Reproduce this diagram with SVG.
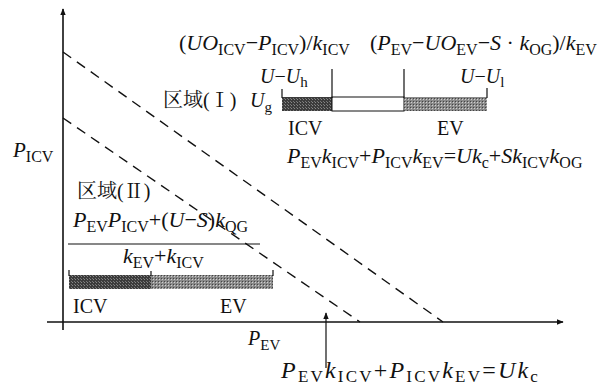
<svg xmlns="http://www.w3.org/2000/svg" width="612" height="387" viewBox="0 0 612 387">
<style>
.t{font-family:"Liberation Serif","Noto Serif CJK SC","Noto Sans CJK SC",serif;font-size:22px;fill:#111}
.l{font-size:20px}
.b{font-size:24px;letter-spacing:2.2px}
.i{font-style:italic}
.s{font-size:16px;font-style:normal}
.b .s{font-size:17px}
.l .s{font-size:15px}
.ax{stroke:#111;stroke-width:1.6;fill:none}
.dash{stroke:#111;stroke-width:1.4;fill:none;stroke-dasharray:10 7}
.thin{stroke:#111;stroke-width:1.2;fill:none}
</style>
<defs>
<marker id="ah" viewBox="0 0 10 10" refX="9" refY="5" markerWidth="7" markerHeight="7" markerUnits="userSpaceOnUse" orient="auto">
<path d="M0,1 L10,5 L0,9 Z" fill="#111"/>
</marker>
<pattern id="dk" width="3" height="3" patternUnits="userSpaceOnUse">
<rect width="3" height="3" fill="#3c3c3c"/><rect width="1" height="1" fill="#888"/><rect x="2" y="2" width="1" height="1" fill="#777"/>
</pattern>
<pattern id="lt" width="3" height="3" patternUnits="userSpaceOnUse">
<rect width="3" height="3" fill="#8a8a8a"/><rect width="1" height="1" fill="#d0d0d0"/><rect x="2" y="2" width="1" height="1" fill="#444"/>
</pattern>
</defs>
<g id="axes">
<line class="ax" x1="63" y1="330" x2="63" y2="9" marker-end="url(#ah)"/>
<line class="ax" x1="47" y1="322" x2="563" y2="322" marker-end="url(#ah)"/>
</g>
<g id="connectors">
<line class="dash" x1="63" y1="52" x2="443" y2="322"/>
<line class="dash" x1="63" y1="118" x2="360" y2="322"/>
<line class="thin" x1="326" y1="368" x2="326" y2="313" marker-end="url(#ah)"/>
</g>
<g id="bar-top">
<rect x="282" y="97" width="50" height="14" fill="url(#dk)"/>
<rect x="332" y="97" width="72" height="14" fill="#fff" stroke="#111" stroke-width="1"/>
<rect x="404" y="97" width="83" height="14" fill="url(#lt)"/>
<line class="thin" x1="282" y1="89" x2="282" y2="98"/>
<line class="thin" x1="332" y1="69" x2="332" y2="98"/>
<line class="thin" x1="404" y1="69" x2="404" y2="98"/>
<line class="thin" x1="487" y1="88" x2="487" y2="98"/>
</g>
<g id="bar-bottom">
<rect x="69" y="275" width="82" height="14" fill="url(#dk)"/>
<rect x="151" y="275" width="122" height="14" fill="url(#lt)"/>
<line class="thin" x1="69" y1="270" x2="69" y2="276"/>
<line class="thin" x1="151" y1="271" x2="151" y2="276"/>
<line class="thin" x1="273" y1="270" x2="273" y2="276"/>
</g>
<g id="labels-top">
<text class="t" x="179" y="50">(<tspan class="i">UO</tspan><tspan class="s" dy="5">ICV</tspan><tspan dy="-5">−</tspan><tspan class="i">P</tspan><tspan class="s" dy="5">ICV</tspan><tspan dy="-5">)/</tspan><tspan class="i">k</tspan><tspan class="s" dy="5">ICV</tspan></text>
<text class="t" x="370" y="50">(<tspan class="i">P</tspan><tspan class="s" dy="5">EV</tspan><tspan dy="-5">−</tspan><tspan class="i">UO</tspan><tspan class="s" dy="5">EV</tspan><tspan dy="-5">−</tspan><tspan class="i">S</tspan> · <tspan class="i">k</tspan><tspan class="s" dy="5">OG</tspan><tspan dy="-5">)/</tspan><tspan class="i">k</tspan><tspan class="s" dy="5">EV</tspan></text>
<text class="t l" x="260" y="83"><tspan class="i">U</tspan>−<tspan class="i">U</tspan><tspan class="s" dy="4">h</tspan></text>
<text class="t l" x="460" y="83"><tspan class="i">U</tspan>−<tspan class="i">U</tspan><tspan class="s" dy="4">l</tspan></text>
<text class="t l" x="163" y="107">区域(Ⅰ)</text>
<text class="t l" x="250" y="107"><tspan class="i">U</tspan><tspan class="s" dy="5">g</tspan></text>
<text class="t l" x="288" y="135">ICV</text>
<text class="t l" x="437" y="135">EV</text>
<text class="t" x="287" y="163"><tspan class="i">P</tspan><tspan class="s" dy="5">EV</tspan><tspan class="i" dy="-5">k</tspan><tspan class="s" dy="5">ICV</tspan><tspan dy="-5">+</tspan><tspan class="i">P</tspan><tspan class="s" dy="5">ICV</tspan><tspan class="i" dy="-5">k</tspan><tspan class="s" dy="5">EV</tspan><tspan dy="-5">=</tspan><tspan class="i">Uk</tspan><tspan class="s" dy="5">c</tspan><tspan dy="-5">+</tspan><tspan class="i">Sk</tspan><tspan class="s" dy="5">ICV</tspan><tspan class="i" dy="-5">k</tspan><tspan class="s" dy="5">OG</tspan></text>
</g>
<g id="labels-left">
<text class="t" x="13" y="157" style="font-size:21px"><tspan class="i">P</tspan><tspan class="s" dy="5">ICV</tspan></text>
<text class="t l" x="77" y="198">区域(Ⅱ)</text>
<text class="t" x="73" y="227"><tspan class="i">P</tspan><tspan class="s" dy="5">EV</tspan><tspan class="i" dy="-5">P</tspan><tspan class="s" dy="5">ICV</tspan><tspan dy="-5">+(</tspan><tspan class="i">U</tspan>−<tspan class="i">S</tspan>)<tspan class="i">k</tspan><tspan class="s" dy="5">QG</tspan></text>
<line class="thin" x1="68" y1="244" x2="260" y2="244"/>
<text class="t" x="123" y="263"><tspan class="i">k</tspan><tspan class="s" dy="5">EV</tspan><tspan dy="-5">+</tspan><tspan class="i">k</tspan><tspan class="s" dy="5">ICV</tspan></text>
<text class="t l" x="73" y="313">ICV</text>
<text class="t l" x="220" y="313">EV</text>
</g>
<g id="labels-bottom">
<text class="t l" x="248" y="345"><tspan class="i">P</tspan><tspan class="s" dy="5">EV</tspan></text>
<text class="t b" x="281" y="378"><tspan class="i">P</tspan><tspan class="s" dy="4">EV</tspan><tspan class="i" dy="-4">k</tspan><tspan class="s" dy="4">ICV</tspan><tspan dy="-4">+</tspan><tspan class="i">P</tspan><tspan class="s" dy="4">ICV</tspan><tspan class="i" dy="-4">k</tspan><tspan class="s" dy="4">EV</tspan><tspan dy="-4">=</tspan><tspan class="i">Uk</tspan><tspan class="s" dy="4">c</tspan></text>
</g>
</svg>
